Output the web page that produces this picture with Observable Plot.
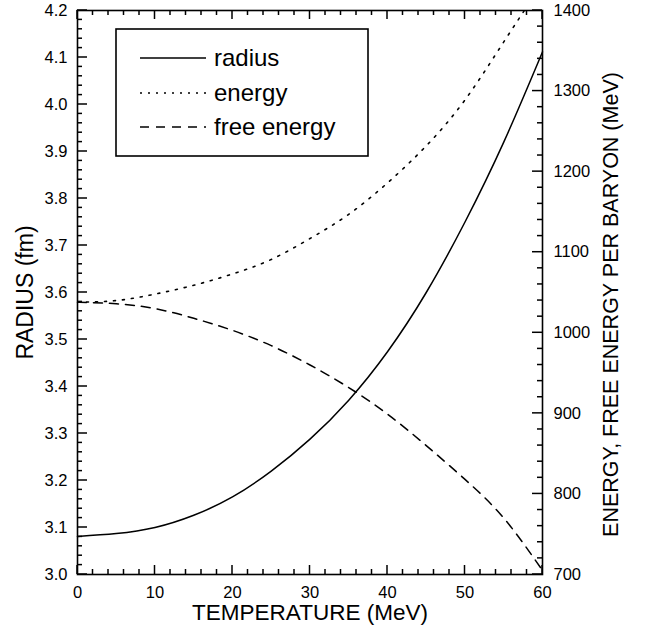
<!DOCTYPE html>
<html>
<head>
<meta charset="utf-8">
<script src="https://cdn.jsdelivr.net/npm/d3@7"></script>
<script src="https://cdn.jsdelivr.net/npm/@observablehq/plot@0.6"></script>
<style>
  html, body { margin: 0; padding: 0; background: #fff; }
  #chart svg { display: block; }
</style>
</head>
<body>
<div id="chart"></div>
<script>
// ---- data ----
const temperature = [0, 5, 10, 15, 20, 25, 30, 35, 40, 45, 50, 55, 60];
const radius      = [3.081, 3.087, 3.100, 3.126, 3.165, 3.220, 3.288, 3.371, 3.474, 3.600, 3.750, 3.920, 4.112];
const energy      = [1038, 1040, 1048, 1059, 1073, 1091, 1117, 1147, 1186, 1232, 1289, 1361, 1434];
const freeEnergy  = [1038, 1036, 1030, 1018, 1003, 984, 960, 932, 899, 860, 818, 770, 705];

const xTicks      = [0, 10, 20, 30, 40, 50, 60];
const radiusTicks = [3.0, 3.1, 3.2, 3.3, 3.4, 3.5, 3.6, 3.7, 3.8, 3.9, 4.0, 4.1, 4.2];
const energyTicks = [700, 800, 900, 1000, 1100, 1200, 1300, 1400];

const seriesNames = ["radius", "energy", "free energy"];

// ---- layout ----
const W = 646, H = 635;
const mL = 77, mR = 104, mT = 10, mB = 61;

// ---- helpers ----
const rMin = 3.0, rMax = 4.2, eMin = 700, eMax = 1400;
const eToR = e => rMin + (e - eMin) * (rMax - rMin) / (eMax - eMin);
const rToE = r => eMin + (r - rMin) * (eMax - eMin) / (rMax - rMin);

const xMinor = d3.range(0, 60.001, 2).filter(v => Math.abs(v % 10) > 1e-6);
const rMinor = d3.range(3.0, 4.2001, 0.02).filter(v => Math.abs(Math.round(v * 10) - v * 10) > 1e-6);
const eMajorR = energyTicks.map(eToR);
const eMinorR = d3.range(700, 1400.001, 20).filter(v => v % 100 !== 0).map(eToR);

const radiusData = temperature.map((t, i) => ({t, v: radius[i]}));
const energyData = temperature.map((t, i) => ({t, v: eToR(energy[i])}));
const freeData   = temperature.map((t, i) => ({t, v: eToR(freeEnergy[i])}));

const FONT = "'Liberation Sans', Arial, Helvetica, sans-serif";
const tickFont = 16.5;

const plot = Plot.plot({
  width: W,
  height: H,
  marginLeft: mL,
  marginRight: mR,
  marginTop: mT,
  marginBottom: mB,
  style: {fontFamily: FONT, fontSize: tickFont + "px", color: "#000", background: "#fff"},
  x: {domain: [0, 60]},
  y: {domain: [rMin, rMax]},
  marks: [
    // curves
    Plot.line(radiusData, {x: "t", y: "v", stroke: "#000", strokeWidth: 1.5, curve: "natural"}),
    Plot.line(energyData, {x: "t", y: "v", stroke: "#000", strokeWidth: 1.6, strokeDasharray: "2,7", curve: "natural", clip: true}),
    Plot.line(freeData,   {x: "t", y: "v", stroke: "#000", strokeWidth: 1.5, strokeDasharray: "9,7", curve: "natural"}),

    // tick labels
    Plot.axisX(xTicks, {anchor: "bottom", tickSize: 0, tickPadding: 12, label: null}),
    Plot.axisY(radiusTicks, {anchor: "left", tickSize: 0, tickPadding: 10, tickFormat: d3.format(".1f"), label: null}),
    Plot.axisY(eMajorR, {anchor: "right", tickSize: 0, tickPadding: 11, tickFormat: d => String(Math.round(rToE(d))), label: null}),

    Plot.frame({stroke: "#000", strokeWidth: 1.6}),

    // axis titles
    Plot.text(["TEMPERATURE (MeV)"], {frameAnchor: "bottom", dy: 38, lineAnchor: "middle", textAnchor: "middle", fontSize: 22.5, fill: "#000"}),
    Plot.text(["RADIUS (fm)"], {frameAnchor: "left", dx: -52, rotate: -90, lineAnchor: "middle", textAnchor: "middle", fontSize: 23, fill: "#000"}),
    Plot.text(["ENERGY, FREE ENERGY PER BARYON (MeV)"], {frameAnchor: "right", dx: 69, dy: 12, rotate: -90, lineAnchor: "middle", textAnchor: "middle", fontSize: 21.5, fill: "#000"})
  ]
});

document.getElementById("chart").appendChild(plot);

const svg = d3.select(plot);

// ---- inward tick marks, positioned through the plot's own scales ----
const sx = plot.scale("x"), sy = plot.scale("y");
const fx = (sx && sx.apply) ? v => sx.apply(v) : d3.scaleLinear([0, 60], [mL, W - mR]);
const fy = (sy && sy.apply) ? v => sy.apply(v) : d3.scaleLinear([rMin, rMax], [H - mB, mT]);
const xL = mL, xR = W - mR, yT = mT, yB = H - mB;
const tg = svg.append("g").attr("stroke", "#000").attr("stroke-width", 1.5);
const vTicks = (vals, yA, yBb) => vals.forEach(v => {
  tg.append("line").attr("x1", fx(v)).attr("x2", fx(v)).attr("y1", yA).attr("y2", yBb);
});
const hTicks = (vals, xA, xBb) => vals.forEach(v => {
  tg.append("line").attr("y1", fy(v)).attr("y2", fy(v)).attr("x1", xA).attr("x2", xBb);
});
vTicks(xTicks, yB - 9, yB);  vTicks(xMinor, yB - 5, yB);
vTicks(xTicks, yT, yT + 9);  vTicks(xMinor, yT, yT + 5);
hTicks(radiusTicks, xL, xL + 10); hTicks(rMinor, xL, xL + 5);
hTicks(eMajorR, xR - 10, xR);     hTicks(eMinorR, xR - 5, xR);

// ---- legend (inside the plot, upper left) ----
const lg = svg.append("g").attr("font-family", FONT).attr("font-size", 24).attr("text-anchor", "start");
lg.append("rect")
  .attr("x", 116).attr("y", 29).attr("width", 252).attr("height", 127)
  .attr("fill", "#fff").attr("stroke", "#000").attr("stroke-width", 1.6);
const dashes = [null, "2,6", "9,7"];
const rows = [58, 93, 127];
seriesNames.forEach((name, i) => {
  lg.append("line")
    .attr("x1", 140).attr("x2", 206).attr("y1", rows[i]).attr("y2", rows[i])
    .attr("stroke", "#000").attr("stroke-width", 1.5)
    .attr("stroke-dasharray", dashes[i]);
  lg.append("text")
    .attr("x", 214).attr("y", rows[i]).attr("dy", "0.35em")
    .attr("text-anchor", "start")
    .attr("fill", "#000").text(name);
});
</script>
</body>
</html>
